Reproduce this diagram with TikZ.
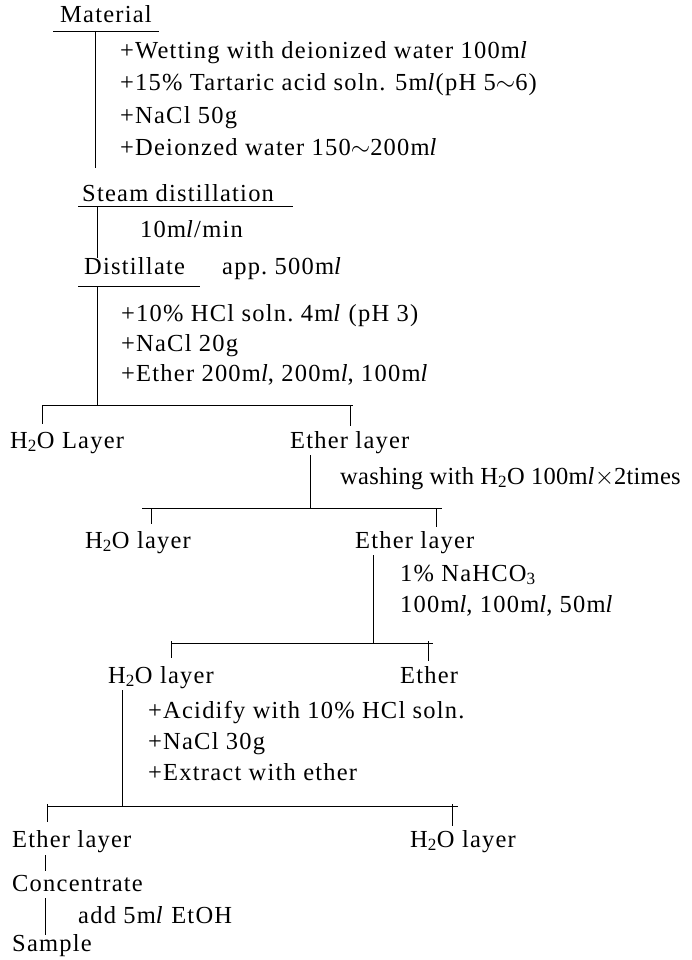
\documentclass[tikz,border=0pt]{standalone}
\usepackage{fontspec}
\setmainfont{Liberation Serif}[LetterSpace=5]
\usetikzlibrary{positioning}
\newcommand{\mll}{m\textit{l}}
\newcommand{\water}{H\textsubscript{2}O}
\tikzset{
  stage/.style={anchor=west, inner sep=0pt, text height=17pt, text depth=5pt,
                font=\fontsize{24.5}{28}\selectfont},
  addnote/.style={stage},
  flow/.style={draw, line width=0.8pt},
}

\begin{document}
\begin{tikzpicture}[x=1pt, y=-1pt]
\useasboundingbox (0,0) rectangle (692,960);
% material and additions
\node[stage] (mat) at (60,17) {Material};
\coordinate (matL) at (53,31); \coordinate (matR) at (159,31);
\coordinate (matdown) at (95,31); \coordinate (matend) at (95,168);
\draw[flow] (matL) -- (matR);
\draw[flow] (matdown) -- (matend);
\node[addnote] (a1) at (120,53) {+Wetting with deionized water 100\mll};
\node[addnote] (a2) at (120,85) {+15\% Tartaric acid soln. 5\mll(pH 5$\sim$6)};
\node[addnote] (a3) at (120,118) {+NaCl 50g};
\node[addnote] (a4) at (120,150) {+Deionzed water 150$\sim$200\mll};
% steam distillation
\node[stage] (steam) at (82,195) {Steam distillation};
\coordinate (stL) at (78,206); \coordinate (stR) at (293,206);
\coordinate (stdown) at (97,206); \coordinate (stend) at (97,258);
\draw[flow] (stL) -- (stR);
\draw[flow] (stdown) -- (stend);
\node[addnote] (rate) at (140,231) {10\mll/min};
% distillate
\node[stage] (dist) at (84,268) {Distillate};
\node[stage] (vol) at (222,268) {app.\ 500\mll};
\coordinate (diL) at (78,286); \coordinate (diR) at (200,286);
\coordinate (didown) at (97,286); \coordinate (bar1) at (97,405);
\draw[flow] (diL) -- (diR);
\draw[flow] (didown) -- (bar1);
\node[addnote] (b1) at (121,315) {+10\% HCl soln.\ 4\mll\ (pH 3)};
\node[addnote] (b2) at (121,345) {+NaCl 20g};
\node[addnote] (b3) at (121,375) {+Ether 200\mll, 200\mll, 100\mll};
% first separation
\coordinate (b1L) at (42,405); \coordinate (b1R) at (353,405);
\draw[flow] (b1L) -- (b1R);
\draw[flow] (b1L) -- ++(0,19);
\draw[flow] ([xshift=-3pt]b1R) -- ++(0,21);
\node[stage] (wat1) at (10,442) {\water\ Layer};
\node[stage] (eth1) at (290,442) {Ether layer};
% washing
\coordinate (e1down) at (310,455); \coordinate (bar2) at (310,508);
\draw[flow] (e1down) -- (bar2);
\node[addnote] (wash) at (340,478) {\addfontfeatures{LetterSpace=1}washing with \water\ 100\mll$\times$2times};
\coordinate (b2L) at (142,508); \coordinate (b2R) at (442,508);
\draw[flow] (b2L) -- (b2R);
\draw[flow] ([xshift=9pt]b2L) -- ++(0,16);
\draw[flow] ([xshift=-6pt]b2R) -- ++(0,19);
\node[stage] (wat2) at (85,542) {\water\ layer};
\node[stage] (eth2) at (355,542) {Ether layer};
% bicarbonate extraction
\coordinate (e2down) at (373,555); \coordinate (bar3) at (373,643);
\draw[flow] (e2down) -- (bar3);
\node[addnote] (c1) at (400,575) {1\% NaHCO\textsubscript{3}};
\node[addnote] (c2) at (400,606) {100\mll, 100\mll, 50\mll};
\coordinate (b3L) at (171,643); \coordinate (b3R) at (433,643);
\draw[flow] (b3L) -- (b3R);
\draw[flow] ([yshift=2pt]b3L) -- ++(0,17);
\draw[flow] ([xshift=-5pt,yshift=2pt]b3R) -- ++(0,20);
\node[stage] (wat3) at (108,677) {\water\ layer};
\node[stage] (eth3) at (400,677) {Ether};
% acidify and extract
\coordinate (w3down) at (122,690); \coordinate (bar4) at (122,806);
\draw[flow] (w3down) -- (bar4);
\node[addnote] (d1) at (148,712) {+Acidify with 10\% HCl soln.};
\node[addnote] (d2) at (148,743) {+NaCl 30g};
\node[addnote] (d3) at (148,774) {+Extract with ether};
\coordinate (b4L) at (47,806); \coordinate (b4R) at (458,806);
\draw[flow] (b4L) -- (b4R);
\draw[flow] ([yshift=2pt]b4L) -- ++(0,18);
\draw[flow] ([xshift=-6pt,yshift=2pt]b4R) -- ++(0,22);
\node[stage] (eth4) at (12,841) {Ether layer};
\node[stage] (wat4) at (410,841) {\water\ layer};
% concentrate
\node[stage] (conc) at (12,885) {Concentrate};
\node[stage] (samp) at (12,945) {Sample};
\coordinate (e4down) at (45,855); \coordinate (conctop) at (45,871);
\draw[flow] (e4down) -- (conctop);
\coordinate (cdown) at (45,898); \coordinate (samptop) at (45,935);
\draw[flow] (cdown) -- (samptop);
\node[addnote] (etoh) at (78,917) {add 5\mll\ EtOH};
\end{tikzpicture}
\end{document}
